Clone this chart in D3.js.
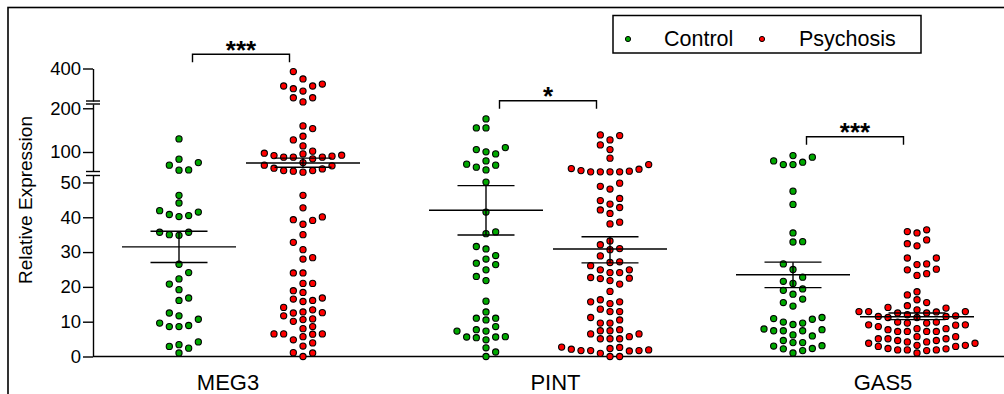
<!DOCTYPE html>
<html>
<head>
<meta charset="utf-8">
<script src="https://cdn.jsdelivr.net/npm/d3@7"></script>
<style>
  body { margin: 0; background: #fff; }
  svg { display: block; font-family: "Liberation Sans", Arial, sans-serif; }
</style>
</head>
<body>
<svg id="chart" width="1004" height="394"></svg>
<script>
// categories and groups
const categories = ["MEG3", "PINT", "GAS5"];
const groups = ["Control", "Psychosis"];

// relative expression values
const meg3Control = [1.0, 2.4, 2.9, 3.4, 4.2, 8.6, 8.6, 8.9, 9.6, 10.7, 11.7, 12.5, 16.1, 16.8, 19.2, 20.8,
  22.3, 24.1, 26.5, 34.8, 35.0, 35.7, 35.7, 40.2, 40.5, 40.8, 41.5, 41.9, 44.1, 46.3,
  58.5, 59.1, 69.9, 75.8, 83.6, 130];
const meg3Psychosis = [0, 1.0, 1.1, 3.0, 3.9, 4.8, 5.7, 6.4, 6.5, 6.5, 6.5, 8.0, 8.6, 10.1, 10.6, 10.8,
  11.7, 12.5, 12.6, 12.8, 13.4, 14.1, 15.8, 16.1, 16.5, 16.8, 18.4, 18.9, 21.0, 21.0, 24.0, 24.0,
  28.0, 28.4, 30.7, 32.8, 35.0, 38.0, 39.1, 39.3, 40.1, 42.7, 46.3,
  53.9, 56.2, 57.5, 57.5, 61.4, 63, 68.3, 69.9, 75.8,
  84.3, 88.2, 88.2, 88.2, 90.5, 91.8, 92.7, 95.7, 97.3, 101.9,
  114, 127.7, 136.2, 153.5, 159.7,
  215, 238, 238, 275, 288, 303, 303, 314, 342, 383];
const pintControl = [0, 1.3, 2.5, 4.8, 5.4, 5.6, 5.6, 5.7, 7.3, 7.3, 7.7, 8.6, 10.5, 11.0, 11.0, 12.8,
  15.9, 21.8, 23.0, 24.9, 26.4, 26.8, 28.0, 29.0, 30.9, 31.6, 35.3, 35.8, 41.5, 50.1,
  59.1, 65.3, 69.9, 72.2, 79.7, 95.7, 100.3, 105.5, 110.1, 155.1, 155.1, 175.7];
const pintPsychosis = [0, 0, 0.9, 1.6, 1.7, 1.7, 1.7, 1.9, 2.1, 2.3, 2.6, 2.7, 5.1, 5.1, 5.1, 5.7,
  6.5, 6.5, 7.4, 7.4, 7.7, 9.6, 9.6, 10.5, 11.2, 12.9, 12.9, 13.6, 15.2, 15.7, 15.7, 16.3,
  18.7, 20.8, 21.8, 22.4, 22.5, 22.7, 24.1, 24.1, 24.9, 24.9, 26.1, 27.0, 27.2, 28.9, 30.7,
  31.0, 32.1, 33.2, 38.1, 38.6, 41.1, 42.1, 42.8, 43.8, 44.8, 45.4, 48.1, 48.9, 49.8,
  54.6, 54.6, 54.6, 54.6, 56.2, 57.5, 60.7, 62.1, 71.3, 85.9, 105.5, 116.3, 127.7, 137.5, 139.1];
const gas5Control = [1.0, 1.7, 2.2, 2.3, 3.0, 3.1, 4.0, 4.0, 4.6, 5.9, 6.2, 7.4, 7.4, 7.4, 7.7, 7.9,
  9.2, 9.6, 9.9, 10.7, 10.9, 11.2, 14.5, 15.5, 16.5, 17.9, 19.0, 19.4, 21.0, 21.6, 22.8,
  25.0, 26.6, 32.9, 33.0, 35.5, 43.7, 47.5,
  71.3, 71.3, 76.7, 79.7, 88.2, 91.8];
const gas5Psychosis = [1.0, 1.7, 1.9, 1.9, 1.9, 2.2, 2.3, 2.9, 2.9, 3.2, 3.2,
  3.8, 3.8, 4.2, 4.2, 4.6, 4.6, 5.1, 5.1, 5.1, 5.7, 5.7,
  7.2, 7.2, 7.2, 7.2, 7.7, 8.0, 8.0, 8.6, 9.0, 9.1, 9.1, 9.6, 9.6, 9.9, 9.9,
  11.2, 11.2, 11.5, 11.5, 11.7, 12.0, 12.5, 12.5, 12.8, 12.9,
  12.9, 12.9, 13.4, 13.9, 14.1, 14.6, 15.5, 16.3, 17.7, 18.6,
  23.3, 23.8, 24.9, 25.1, 26.4, 26.6, 28.3, 28.3, 31.8, 32.4, 33.5, 35.5, 35.9, 36.4];

const seriesValues = [[meg3Control, meg3Psychosis], [pintControl, pintPsychosis], [gas5Control, gas5Psychosis]];

// mean and SEM as drawn
const meanValues = [[31.5, 75], [42, 30.9], [23.5, 11.4]];
const semLower = [[27, 65], [34.9, 26.9], [19.8, 10.6]];
const semUpper = [[36, 86], [49.1, 34.4], [27.1, 12.5]];

const significance = ["***", "*", "***"];
const tickValues = [0, 10, 20, 30, 40, 50, 100, 200, 400];

const colors = {Control: "#00a800", Psychosis: "#ff0000"};

const svg = d3.select("#chart");

// broken y axis: three linear pieces
const ySegments = [
  {scale: d3.scaleLinear().domain([0, 52]).range([356.5, 175.5]), max: 52},
  {scale: d3.scaleLinear().domain([55.4, 209.8]).range([171.5, 104]), max: 212},
  {scale: d3.scaleLinear().domain([220, 400]).range([101, 68.5]), max: Infinity}
];
const segmentOf = v => ySegments.find(s => v <= s.max);
const y = v => segmentOf(v).scale(v);

const axisX = 93;
const x0 = d3.scaleBand().domain(categories).range([87.5, 1008.5]);
const x1 = d3.scalePoint().domain(groups).range([-62, 62]);
const catCenter = c => x0(c) + x0.bandwidth() / 2;
const labelX = d3.scalePoint().domain(categories).range([228, 883]);

// frame
svg.append("rect")
  .attr("x", 8).attr("y", 7.5).attr("width", 1100).attr("height", 500)
  .attr("fill", "none").attr("stroke", "#000").attr("stroke-width", 1.6);

// y axis pieces
ySegments.forEach((seg, i) => {
  const ticks = tickValues.filter(t => segmentOf(t) === seg);
  const g = svg.append("g")
    .attr("transform", `translate(${axisX},0)`)
    .call(d3.axisLeft(seg.scale).tickValues(ticks).tickSize(10).tickSizeOuter(0).tickPadding(2));
  g.selectAll("path, line").attr("stroke", "#000").attr("stroke-width", 1.4);
  g.selectAll("text").attr("font-size", 18.5).attr("fill", "#000")
    .attr("font-family", "Liberation Sans, Arial, sans-serif");
  // break caps
  const r = seg.scale.range();
  const caps = [];
  if (i > 0) caps.push(r[0]);
  if (i < ySegments.length - 1) caps.push(r[1]);
  caps.forEach(cy => {
    svg.append("line")
      .attr("x1", axisX - 7).attr("x2", axisX + 7)
      .attr("y1", cy).attr("y2", cy)
      .attr("stroke", "#000").attr("stroke-width", 1.4);
  });
});

// x axis line
svg.append("line")
  .attr("x1", axisX).attr("x2", 1010)
  .attr("y1", y(0)).attr("y2", y(0))
  .attr("stroke", "#000").attr("stroke-width", 1.5);

svg.selectAll(".cat-label").data(categories).enter().append("text")
  .attr("class", "cat-label")
  .attr("x", d => labelX(d)).attr("y", 390)
  .attr("text-anchor", "middle").attr("font-size", 22)
  .text(d => d);

svg.append("text")
  .attr("transform", "translate(32,200) rotate(-90)")
  .attr("text-anchor", "middle").attr("font-size", 19)
  .text("Relative Expression");

// column scatter layout (discrete columns, collision avoidance)
const colStep = 9.67, minDist = 7.6;
function swarm(values) {
  const pts = values.map(v => ({v, y: y(v)})).sort((a, b) => b.y - a.y);
  const placed = [];
  let side = 1;
  pts.forEach(p => {
    for (let k = 0; k < 60; k++) {
      const cands = k === 0 ? [0] : [side * k, -side * k];
      const hit = cands.find(c => placed.every(q => (q.x - c * colStep) ** 2 + (q.y - p.y) ** 2 >= minDist * minDist));
      if (hit !== undefined) {
        p.x = hit * colStep;
        if (hit !== 0) side = hit > 0 ? -1 : 1;
        placed.push(p);
        break;
      }
    }
  });
  return placed;
}

categories.forEach((cat, ci) => {
  groups.forEach((grp, gi) => {
    const cx = catCenter(cat) + x1(grp);
    const pts = swarm(seriesValues[ci][gi]);
    svg.append("g").selectAll("circle").data(pts).enter().append("circle")
      .attr("cx", d => cx + d.x).attr("cy", d => d.y).attr("r", 3.1)
      .attr("fill", colors[grp]).attr("stroke", "#000").attr("stroke-width", 1.1);

    const g = svg.append("g").attr("stroke", "#000").attr("stroke-width", 1.4);
    const m = y(meanValues[ci][gi]), lo = y(semLower[ci][gi]), hi = y(semUpper[ci][gi]);
    g.append("line").attr("x1", cx - 57).attr("x2", cx + 57).attr("y1", m).attr("y2", m);
    g.append("line").attr("x1", cx - 28.5).attr("x2", cx + 28.5).attr("y1", lo).attr("y2", lo);
    g.append("line").attr("x1", cx - 28.5).attr("x2", cx + 28.5).attr("y1", hi).attr("y2", hi);
    g.append("line").attr("x1", cx).attr("x2", cx).attr("y1", lo).attr("y2", hi);
  });
});

// significance brackets
const bracketTop = [54.3, 100.7, 136.7];
categories.forEach((cat, ci) => {
  const cx = catCenter(cat), by = bracketTop[ci];
  svg.append("path")
    .attr("d", `M${cx - 48.5},${by + 8}V${by}H${cx + 48.5}V${by + 8}`)
    .attr("fill", "none").attr("stroke", "#000").attr("stroke-width", 1.4);
  svg.append("text")
    .attr("x", cx).attr("y", by + 4.5)
    .attr("text-anchor", "middle").attr("font-size", 26).attr("font-weight", "bold")
    .text(significance[ci]);
});

// legend
const legend = svg.append("g");
legend.append("rect")
  .attr("x", 613).attr("y", 15.5).attr("width", 308).attr("height", 37.5)
  .attr("fill", "#fff").attr("stroke", "#000").attr("stroke-width", 1.5);
const legX = [628, 762], legTextX = [664, 799];
groups.forEach((grp, i) => {
  legend.append("circle").attr("cx", legX[i]).attr("cy", 39).attr("r", 2.6)
    .attr("fill", colors[grp]).attr("stroke", "#000").attr("stroke-width", 1);
  legend.append("text").attr("x", legTextX[i]).attr("y", 46).attr("font-size", 21.5).text(grp);
});
</script>
</body>
</html>
